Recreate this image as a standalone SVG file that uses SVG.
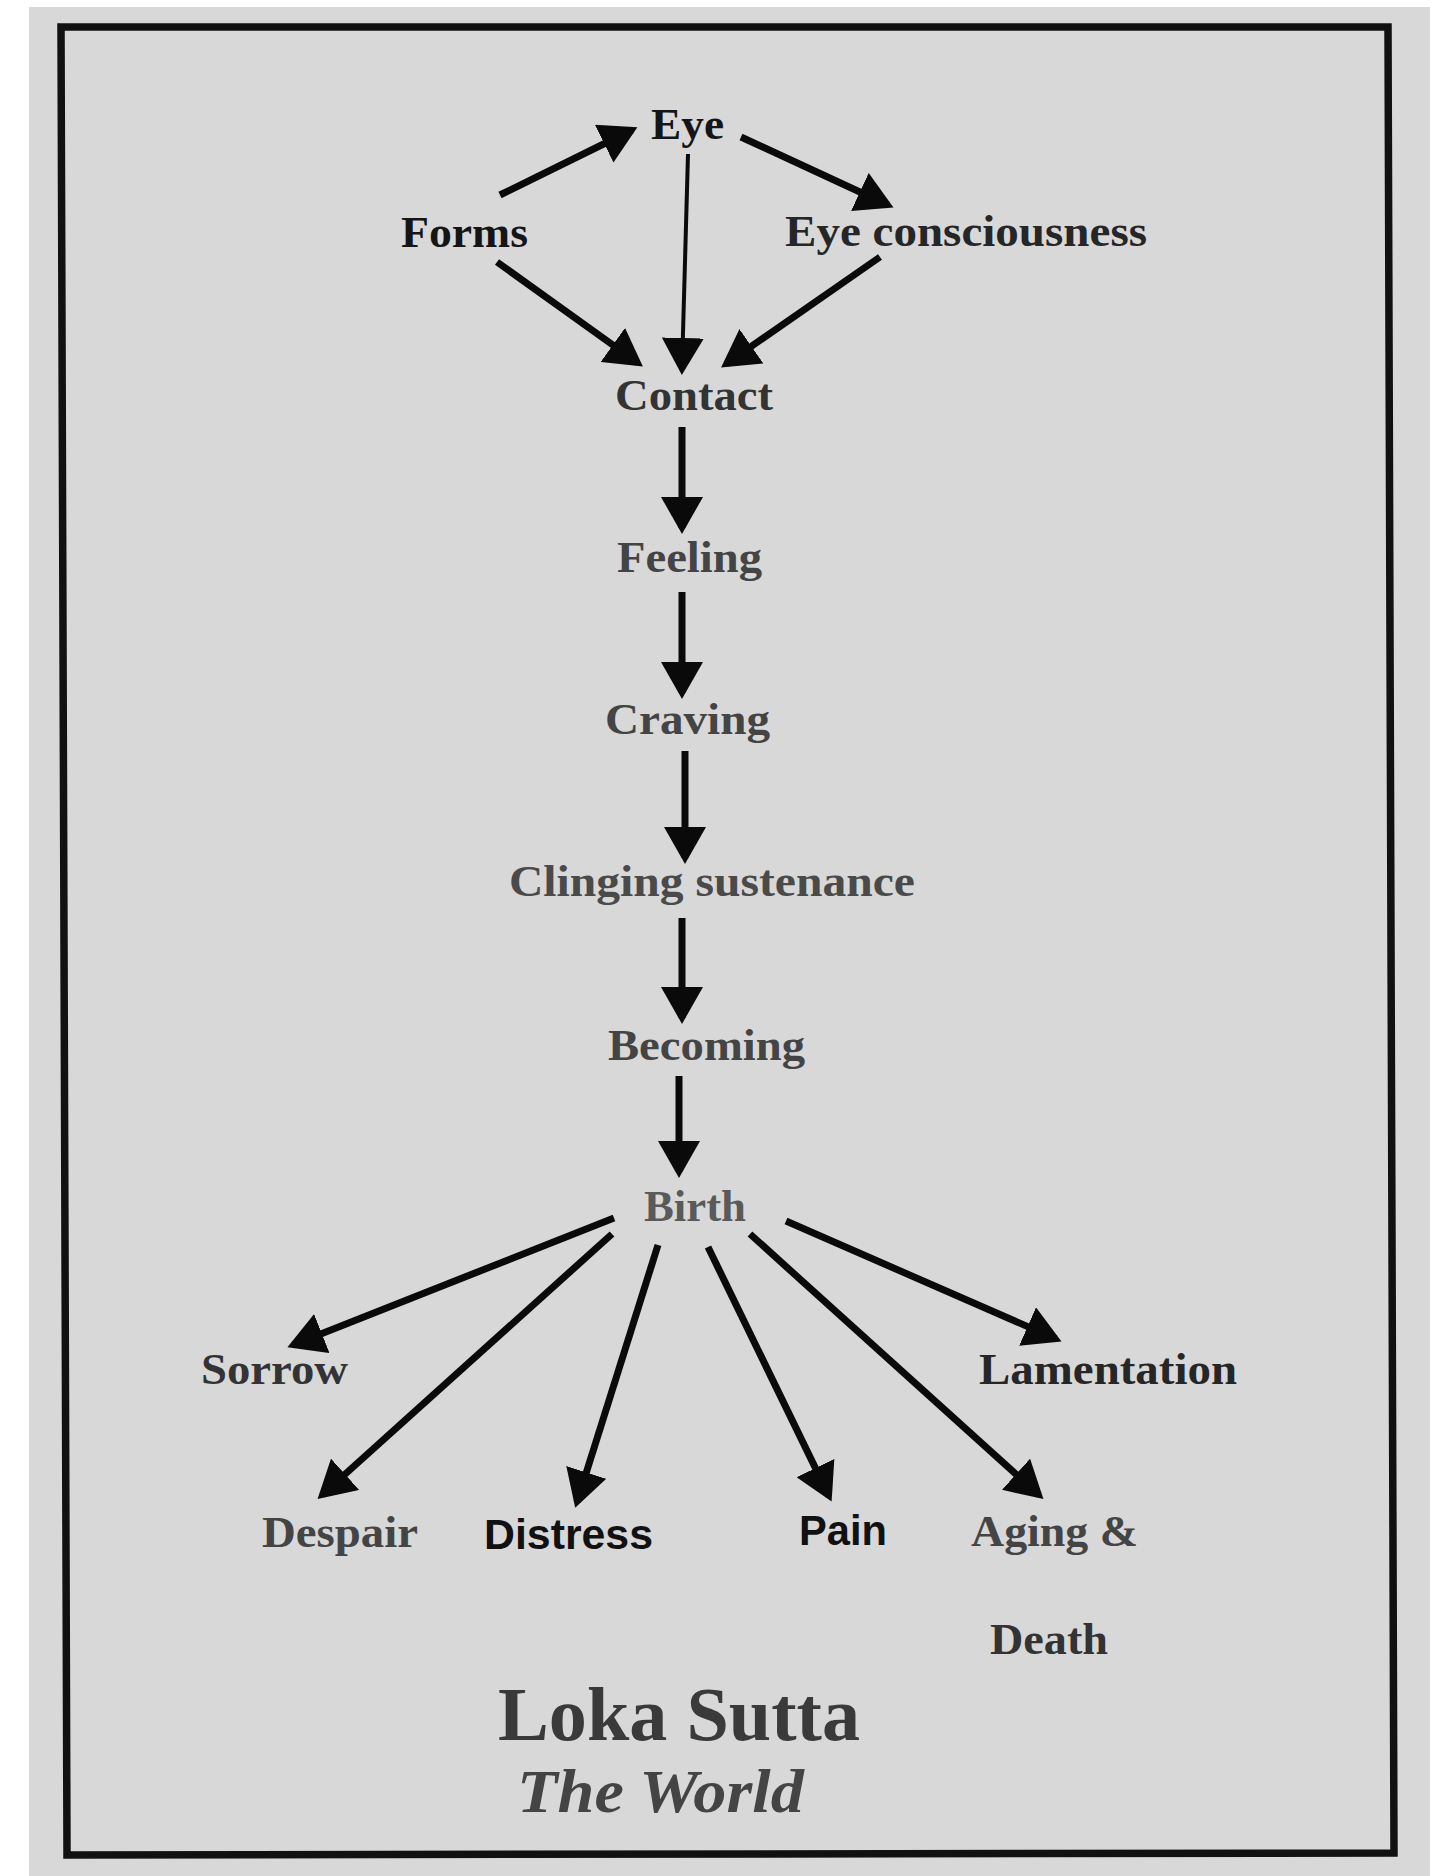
<svg xmlns="http://www.w3.org/2000/svg" width="1442" height="1876" viewBox="0 0 1442 1876">
  <style>
    .lbl { font-family: "Liberation Serif", "Times New Roman", serif; font-weight: bold; font-size: 45px; }
    .sans { font-family: "Liberation Sans", Arial, sans-serif; font-weight: bold; font-size: 43px; }
    .title { font-family: "Liberation Serif", "Times New Roman", serif; font-weight: bold; font-size: 76px; fill: #3a3a3a; }
    .sub { font-family: "Liberation Serif", "Times New Roman", serif; font-weight: bold; font-style: italic; font-size: 62px; fill: #444; }
    .conn { stroke: #0a0a0a; stroke-width: 7; fill: none; marker-end: url(#ah); }
    .thin { stroke-width: 4; }
  </style>
  <defs>
    <marker id="ah" markerUnits="userSpaceOnUse" markerWidth="38" markerHeight="42" refX="31" refY="21" orient="auto">
      <path d="M0,0 L37,21 L0,42 z" fill="#0a0a0a"/>
    </marker>
  </defs>
  <rect x="0" y="0" width="1442" height="1876" fill="#ffffff"/>
  <rect x="29" y="7" width="1401" height="1869" fill="#d8d8d8"/>
  <polygon points="61,27 1388,27 1394,1853 67,1855" fill="none" stroke="#111" stroke-width="7.5"/>

  <g id="connectors">
    <path class="conn" d="M500,195 L632,130"/>
    <path class="conn" d="M741,137 L888,205"/>
    <path class="conn thin" d="M688,154 L682,369"/>
    <path class="conn" d="M497,262 L638,363"/>
    <path class="conn" d="M880,257 L726,364"/>
    <path class="conn" d="M682,427 L682,528"/>
    <path class="conn" d="M682,592 L682,693"/>
    <path class="conn" d="M685,751 L685,858"/>
    <path class="conn" d="M682,918 L682,1018"/>
    <path class="conn" d="M679,1076 L679,1172"/>
    <path class="conn" d="M614,1218 L293,1345"/>
    <path class="conn" d="M612,1234 L322,1495"/>
    <path class="conn" d="M658,1245 L577,1502"/>
    <path class="conn" d="M708,1247 L829,1496"/>
    <path class="conn" d="M750,1234 L1039,1495"/>
    <path class="conn" d="M786,1221 L1056,1339"/>
  </g>

  <g id="eye"><text class="lbl" x="651" y="139" textLength="73" lengthAdjust="spacingAndGlyphs" fill="#151515">Eye</text></g>
  <g id="forms"><text class="lbl" x="401" y="247" textLength="127" lengthAdjust="spacingAndGlyphs" fill="#151515">Forms</text></g>
  <g id="eye-consciousness"><text class="lbl" x="785" y="246" textLength="362" lengthAdjust="spacingAndGlyphs" fill="#262626">Eye consciousness</text></g>
  <g id="contact"><text class="lbl" x="615" y="410" textLength="158" lengthAdjust="spacingAndGlyphs" fill="#333">Contact</text></g>
  <g id="feeling"><text class="lbl" x="617" y="572" textLength="145" lengthAdjust="spacingAndGlyphs" fill="#444">Feeling</text></g>
  <g id="craving"><text class="lbl" x="605" y="734" textLength="165" lengthAdjust="spacingAndGlyphs" fill="#444">Craving</text></g>
  <g id="clinging"><text class="lbl" x="509" y="896" textLength="406" lengthAdjust="spacingAndGlyphs" fill="#4a4a4a">Clinging sustenance</text></g>
  <g id="becoming"><text class="lbl" x="608" y="1060" textLength="197" lengthAdjust="spacingAndGlyphs" fill="#444">Becoming</text></g>
  <g id="birth"><text class="lbl" x="644" y="1221" textLength="102" lengthAdjust="spacingAndGlyphs" fill="#5a5a5a">Birth</text></g>
  <g id="sorrow"><text class="lbl" x="201" y="1384" textLength="147" lengthAdjust="spacingAndGlyphs" fill="#333">Sorrow</text></g>
  <g id="lamentation"><text class="lbl" x="979" y="1384" textLength="258" lengthAdjust="spacingAndGlyphs" fill="#262626">Lamentation</text></g>
  <g id="despair"><text class="lbl" x="262" y="1547" textLength="156" lengthAdjust="spacingAndGlyphs" fill="#444">Despair</text></g>
  <g id="distress"><text class="sans" x="484" y="1549" textLength="169" lengthAdjust="spacingAndGlyphs" fill="#111">Distress</text></g>
  <g id="pain"><text class="sans" x="799" y="1545" textLength="88" lengthAdjust="spacingAndGlyphs" fill="#111">Pain</text></g>
  <g id="aging-death">
    <text class="lbl" x="971" y="1546" textLength="167" lengthAdjust="spacingAndGlyphs" fill="#444">Aging &amp;</text>
    <text class="lbl" x="990" y="1654" textLength="118" lengthAdjust="spacingAndGlyphs" fill="#333">Death</text>
  </g>
  <g id="title">
    <text class="title" x="498" y="1740" textLength="362" lengthAdjust="spacingAndGlyphs">Loka Sutta</text>
    <text class="sub" x="517" y="1812" textLength="287" lengthAdjust="spacingAndGlyphs">The World</text>
  </g>
</svg>
